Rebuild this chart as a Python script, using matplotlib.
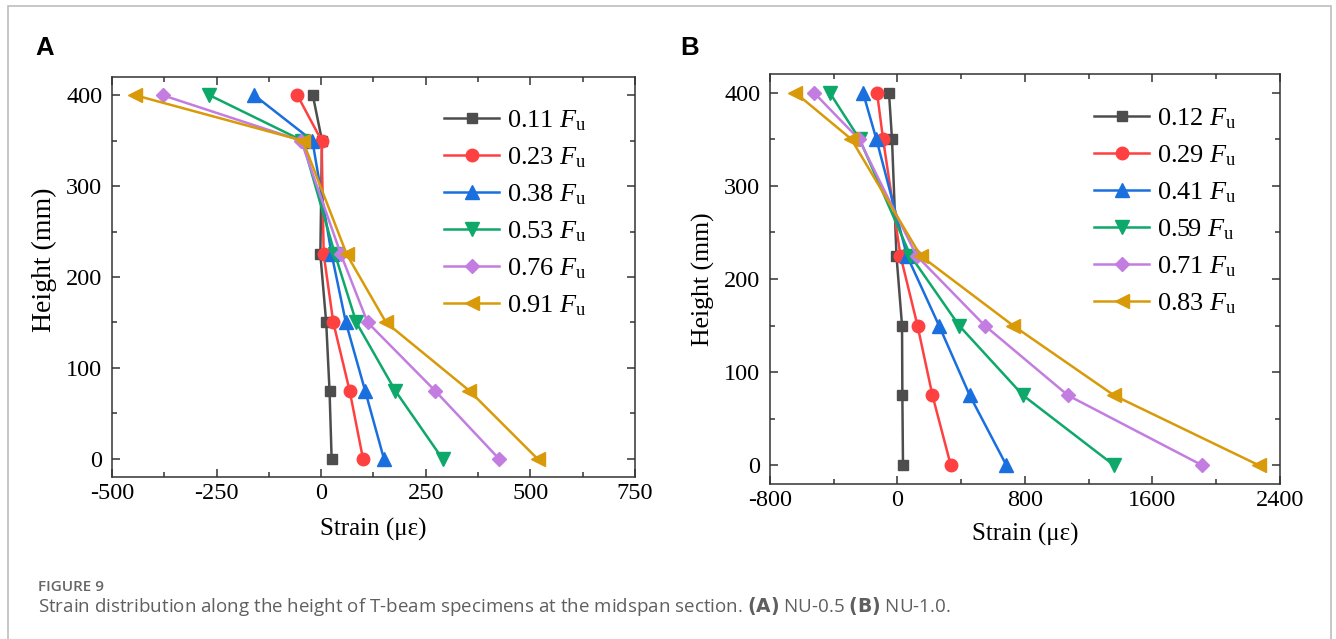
import numpy as np
import matplotlib.pyplot as plt
from matplotlib.patches import Rectangle
from matplotlib.ticker import MultipleLocator

plt.rcParams['font.family'] = 'Liberation Serif'
plt.rcParams['axes.unicode_minus'] = False
plt.rcParams['mathtext.fontset'] = 'custom'
plt.rcParams['mathtext.rm'] = 'Liberation Serif'
plt.rcParams['mathtext.it'] = 'Liberation Serif:italic'

# gauge heights along the section (mm)
height = [400, 350, 225, 150, 75, 0]

# NU-0.5 strains (microstrain), one list per load level
loads_a = ['0.11', '0.23', '0.38', '0.53', '0.76', '0.91']
strain_a = [
    [-20, 2, -2, 12, 20, 25],
    [-57, 1, 6, 29, 68, 100],
    [-160, -21, 25, 59, 105, 150],
    [-267, -45, 33, 84, 177, 290],
    [-379, -48, 47, 111, 272, 425],
    [-445, -44, 61, 155, 354, 517],
]

# NU-1.0 strains (microstrain)
loads_b = ['0.12', '0.29', '0.41', '0.59', '0.71', '0.83']
strain_b = [
    [-53, -34, -6, 29, 31, 35],
    [-128, -90, 19, 126, 220, 335],
    [-216, -132, 60, 261, 454, 684],
    [-425, -237, 82, 387, 789, 1360],
    [-524, -241, 120, 548, 1071, 1913],
    [-641, -289, 145, 726, 1360, 2269],
]

colors = ['#4d4d4d', '#ff4040', '#1a6fdf', '#0ea86b', '#c37de0', '#d99a0a']
markers = ['s', 'o', '^', 'v', 'D', '<']
msizes = [7.5, 9, 10, 10, 7, 10]

fig = plt.figure(figsize=(13.36, 6.39), dpi=100)

# light frame round the whole figure
fig.patches.append(Rectangle((8 / 1336, -0.1), 1323 / 1336, 1.1 - 6 / 639,
                             transform=fig.transFigure, fill=False,
                             edgecolor='#bdbdbd', linewidth=1.2))

axA = fig.add_axes([0.0838, 0.2535, 0.3915, 0.626])
axB = fig.add_axes([0.5763, 0.2426, 0.3817, 0.6416])


def draw_panel(ax, loads, strains, xlim, xmajor, legend_anchor,
               ylab_size, ylab_pos, xlab_pos):
    for i in range(len(loads)):
        ax.plot(strains[i], height, color=colors[i], marker=markers[i],
                markersize=msizes[i], linewidth=1.8,
                label=loads[i] + r' $F_{\mathrm{u}}$')
    ax.set_xlim(xlim)
    ax.set_ylim(-20, 420)
    ax.xaxis.set_major_locator(MultipleLocator(xmajor))
    ax.xaxis.set_minor_locator(MultipleLocator(xmajor / 2))
    ax.yaxis.set_major_locator(MultipleLocator(100))
    ax.yaxis.set_minor_locator(MultipleLocator(50))
    ax.tick_params(which='both', direction='in', top=True, right=True,
                   color='#333333', width=1.1, labelsize=17.5)
    ax.tick_params(axis='x', pad=4.5)
    ax.tick_params(axis='y', pad=7)
    ax.tick_params(which='major', length=6)
    ax.tick_params(which='minor', length=3.5)
    for lbl in ax.get_xticklabels() + ax.get_yticklabels():
        lbl.set_fontfamily('Liberation Serif')
    for s in ax.spines.values():
        s.set_color('#333333')
        s.set_linewidth(1.1)
    ax.set_xlabel('Strain (με)', fontsize=18)
    ax.set_ylabel('Height (mm)', fontsize=ylab_size)
    ax.xaxis.set_label_coords(*xlab_pos)
    ax.yaxis.set_label_coords(*ylab_pos)
    ax.legend(loc='upper left', bbox_to_anchor=legend_anchor, frameon=False,
              fontsize=19, handlelength=2.1, handletextpad=0.3,
              labelspacing=0.47, borderpad=0, borderaxespad=0)


draw_panel(axA, loads_a, strain_a, (-500, 750), 250,
           ((444 - 112) / 523, (477 - 108) / 400),
           20, (-0.105, 0.5425), (0.5, -0.1025))
draw_panel(axB, loads_b, strain_b, (-800, 2400), 800,
           ((1094 - 770) / 510, (484 - 106) / 410),
           18.5, (-0.108, 0.5), (0.5, -0.095))

fig.text(35 / 1336, 1 - 48 / 639, 'A', family='Liberation Sans',
         fontweight='bold', fontsize=18.5, va='center', ha='left')
fig.text(680 / 1336, 1 - 48 / 639, 'B', family='Liberation Sans',
         fontweight='bold', fontsize=18.5, va='center', ha='left')

fig.text(38 / 1336, 1 - 587 / 639, 'FIGURE 9', family='Open Sans',
         fontweight='semibold', fontsize=11, color='#666666',
         va='center', ha='left')
fig.text(38 / 1336, 1 - 606 / 639,
         r'Strain distribution along the height of T-beam specimens at the '
         r'midspan section. $\bf{(A)}$ NU-0.5 $\bf{(B)}$ NU-1.0.',
         family='Open Sans', fontsize=13.5, color='#5f5f5f',
         va='center', ha='left')

fig.savefig('out.png', dpi=100)
